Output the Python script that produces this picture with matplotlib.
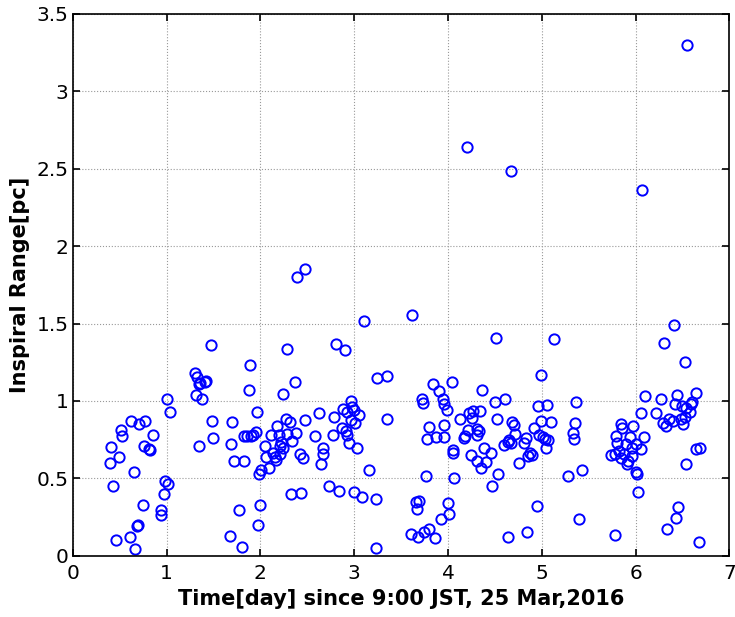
import matplotlib
matplotlib.use('Agg')
import matplotlib.pyplot as plt

# days since 9:00 JST, 25 Mar 2016
time_day = [
    0.41, 0.40, 0.43, 0.46, 0.51, 0.52, 0.49, 0.62, 0.65, 0.61,
    0.66, 0.69, 0.70, 0.71, 0.77, 0.75, 0.76, 0.81, 0.82, 0.86,
    0.94, 0.94, 0.97, 0.98, 1.01, 1.00, 1.04, 1.30, 1.32, 1.35,
    1.36, 1.41, 1.42, 1.31, 1.38, 1.35, 1.47, 1.48, 1.49, 1.70,
    1.69, 1.72, 1.68, 1.77, 1.80, 1.83, 1.89, 1.875, 1.83, 1.86,
    1.90, 1.92, 1.95, 1.96, 1.97, 2.00, 1.98,
    2.01, 2.046, 2.064, 2.088, 2.117, 2.134, 2.152, 2.17, 2.181, 2.195,
    2.205, 2.205, 2.223, 2.24, 2.24, 2.277, 2.283, 2.287, 2.312, 2.336,
    2.365, 2.383, 2.33, 2.389, 2.418, 2.429, 2.453, 2.471, 2.479, 2.585,
    2.62, 2.666, 2.666, 2.649, 2.73, 2.772, 2.783, 2.809, 2.836, 2.868,
    2.879, 2.907, 2.915, 2.926, 2.926, 2.94, 2.968, 2.975, 2.996, 2.968,
    2.996, 3.01, 3.032, 3.046, 3.085, 3.099, 3.16, 3.227, 3.234, 3.245,
    3.351, 3.351,
    3.606, 3.617, 3.66, 3.687, 3.666, 3.677,
    3.723, 3.737, 3.748, 3.766, 3.773, 3.794, 3.80, 3.836, 3.865, 3.872,
    3.907, 3.926, 3.943, 3.953, 3.961, 3.961, 3.985, 3.996, 4.007, 4.04,
    4.049, 4.057, 4.067, 4.128, 4.17, 4.18, 4.198, 4.209, 4.227, 4.245,
    4.255, 4.262, 4.304, 4.304, 4.31, 4.326, 4.34, 4.351, 4.362, 4.379,
    4.404, 4.457, 4.468, 4.503, 4.51, 4.517, 4.528, 4.599, 4.61, 4.635,
    4.642, 4.652, 4.67, 4.67, 4.687, 4.705, 4.716, 4.759, 4.812, 4.836,
    4.847, 4.857, 4.872, 4.894, 4.911, 4.943, 4.964, 4.971, 4.989, 4.996,
    5.007, 5.035, 5.043, 5.05, 5.07, 5.096, 5.131, 5.28, 5.333, 5.344,
    5.351, 5.362, 5.397, 5.426,
    5.74, 5.78, 5.78, 5.794, 5.804, 5.822, 5.84, 5.84, 5.857, 5.88,
    5.894, 5.904, 5.921, 5.936, 5.964, 5.964, 5.974, 6.0, 6.006, 6.017,
    6.028, 6.053, 6.06, 6.07, 6.088, 6.099, 6.219, 6.266, 6.291, 6.301,
    6.326, 6.33, 6.355, 6.4, 6.407, 6.415, 6.432, 6.436, 6.453, 6.479,
    6.496, 6.503, 6.524, 6.524, 6.532, 6.538, 6.543, 6.574, 6.585, 6.602,
    6.638, 6.638, 6.673, 6.691,
]

inspiral_range = [
    0.70, 0.596, 0.45, 0.10, 0.81, 0.77, 0.64, 0.87, 0.54, 0.12,
    0.04, 0.19, 0.20, 0.85, 0.87, 0.33, 0.71, 0.69, 0.685, 0.78,
    0.295, 0.26, 0.40, 0.48, 0.46, 1.01, 0.93, 1.18, 1.155, 1.11,
    1.115, 1.12, 1.13, 1.04, 1.01, 0.71, 1.36, 0.87, 0.76, 0.865,
    0.72, 0.61, 0.127, 0.295, 0.054, 0.61, 1.235, 1.07, 0.77, 0.77,
    0.77, 0.78, 0.80, 0.93, 0.20, 0.33, 0.53,
    0.555, 0.71, 0.639, 0.568, 0.779, 0.661, 0.639, 0.617, 0.839, 0.779,
    0.654, 0.71, 0.735, 0.697, 1.045, 0.882, 1.334, 0.783, 0.861, 0.74,
    1.119, 0.79, 0.398, 1.80, 0.654, 0.403, 0.632, 1.85, 0.875, 0.774,
    0.919, 0.697, 0.654, 0.59, 0.45, 0.779, 0.893, 1.37, 0.417, 0.822,
    0.946, 1.327, 0.804, 0.929, 0.779, 0.725, 0.998, 0.961, 0.94, 0.875,
    0.413, 0.854, 0.697, 0.912, 0.381, 1.516, 0.553, 0.048, 0.364, 1.148,
    1.159, 0.886,
    0.14, 1.553, 0.348, 0.35, 0.30, 0.123,
    1.015, 0.987, 0.151, 0.514, 0.757, 0.172, 0.832, 1.106, 0.112, 0.764,
    1.063, 0.235, 1.011, 0.764, 0.983, 0.843, 0.94, 0.342, 0.269, 1.123,
    0.682, 0.661, 0.50, 0.882, 0.76, 0.77, 2.639, 0.811, 0.919, 0.65,
    0.887, 0.934, 0.817, 0.611, 0.78, 0.804, 0.934, 0.564, 1.069, 0.693,
    0.606, 0.661, 0.45, 0.99, 1.409, 0.882, 0.525, 0.714, 1.011, 0.735,
    0.123, 0.746, 0.731, 2.488, 0.861, 0.843, 0.783, 0.6, 0.725, 0.761,
    0.151, 0.645, 0.661, 0.65, 0.826, 0.323, 0.968, 0.779, 0.869, 1.166,
    0.768, 0.757, 0.693, 0.972, 0.746, 0.865, 1.402, 0.516, 0.794, 0.757,
    0.854, 0.994, 0.235, 0.553,
    0.65, 0.656, 0.134, 0.772, 0.725, 0.677, 0.85, 0.628, 0.828, 0.66,
    0.719, 0.59, 0.613, 0.768, 0.693, 0.643, 0.837, 0.72, 0.542, 0.527,
    0.409, 0.686, 0.919, 2.36, 0.764, 1.03, 0.919, 1.015, 0.858, 1.374,
    0.839, 0.17, 0.886, 0.871, 1.488, 0.983, 0.241, 1.037, 0.312, 0.886,
    0.966, 0.848, 1.252, 0.893, 0.592, 0.957, 3.299, 0.929, 0.979, 0.994,
    1.054, 0.688, 0.09, 0.693,
]

x_ticks = [0, 1, 2, 3, 4, 5, 6, 7]
x_tick_labels = ['0', '1', '2', '3', '4', '5', '6', '7']
y_ticks = [0, 0.5, 1, 1.5, 2, 2.5, 3, 3.5]
y_tick_labels = ['0', '0.5', '1', '1.5', '2', '2.5', '3', '3.5']

plt.rcParams['font.family'] = ['DejaVu Sans']

fig = plt.figure(figsize=(7.35, 6.17), dpi=100)
ax = fig.add_axes([0.099, 0.0994, 0.8935, 0.878])

ax.plot(time_day, inspiral_range, linestyle='none', marker='o',
        markersize=7.4, markerfacecolor='none', markeredgecolor='#0000ff',
        markeredgewidth=1.4)

ax.set_xlim(0, 7)
ax.set_ylim(0, 3.5)
ax.set_xticks(x_ticks)
ax.set_xticklabels(x_tick_labels)
ax.set_yticks(y_ticks)
ax.set_yticklabels(y_tick_labels)
ax.tick_params(direction='in', top=True, right=True, length=5, width=1.2,
               labelsize=14.5)
ax.tick_params(axis='x', pad=6)
ax.tick_params(axis='y', pad=3)
ax.grid(True, linestyle=':', color='#999999', linewidth=0.8)
ax.set_axisbelow(True)
for sp in ax.spines.values():
    sp.set_linewidth(1.2)

ax.set_xlabel('Time[day] since 9:00 JST, 25 Mar,2016', fontsize=15,
              fontweight='bold', labelpad=4)
ax.set_ylabel('Inspiral Range[pc]', fontsize=15, fontweight='bold',
              labelpad=5)

fig.savefig('out.png', dpi=100)
